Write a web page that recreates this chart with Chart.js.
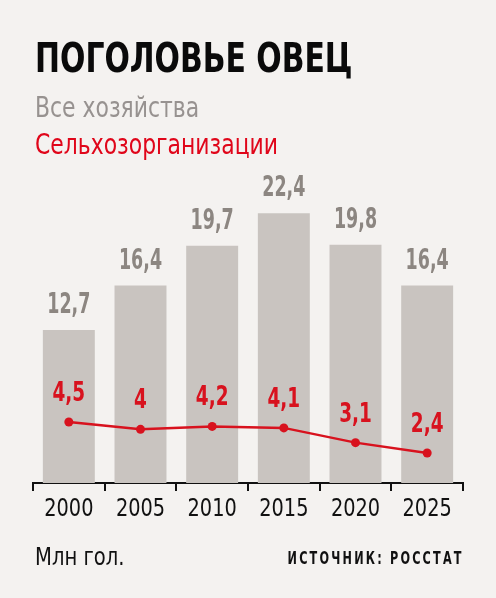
<!DOCTYPE html>
<html>
<head>
<meta charset="utf-8">
<script src="https://cdn.jsdelivr.net/npm/chart.js@4"></script>
<style>
  html, body { margin: 0; padding: 0; background: #f4f2f0; }
  #wrap { position: relative; width: 496px; height: 598px; overflow: hidden; }
  #c { position: absolute; left: 0; top: 0; }
  .txt { position: absolute; line-height: 1; white-space: nowrap; transform-origin: left top; font-family: "DejaVu Sans Condensed", "Liberation Sans Narrow", sans-serif; }
  #title { left: 35px; top: 38px; font-size: 40px; font-weight: bold; color: #0a0a0a; transform: scaleX(0.83); }
  #sub1 { left: 35px; top: 94px; font-size: 28px; color: #979290; transform: scaleX(0.87); }
  #sub2 { left: 35px; top: 131px; font-size: 28px; color: #e0061a; transform: scaleX(0.87); }
  #unit { left: 35px; top: 544px; font-size: 25px; color: #111; transform: scaleX(0.87); }
  #src { right: 32px; top: 550px; font-size: 17px; font-weight: bold; letter-spacing: 3px; color: #111; transform-origin: right top; transform: scaleX(0.735); }
</style>
</head>
<body>
<div id="wrap">
  <canvas id="c" width="496" height="598"></canvas>
  <div class="txt" id="title">ПОГОЛОВЬЕ ОВЕЦ</div>
  <div class="txt" id="sub1">Все хозяйства</div>
  <div class="txt" id="sub2">Сельхозорганизации</div>
  <div class="txt" id="unit">Млн гол.</div>
  <div class="txt" id="src">ИСТОЧНИК: РОССТАТ</div>
</div>
<script>
// data, млн голов
var years = ["2000", "2005", "2010", "2015", "2020", "2025"];
var allFarms = [12.7, 16.4, 19.7, 22.4, 19.8, 16.4];
var agriOrgs = [4.5, 4, 4.2, 4.1, 3.1, 2.4];

var FONT = '"DejaVu Sans Condensed", "Liberation Sans Narrow", sans-serif';
var RED = "#d8121e";

function fmt(v) {
  return String(v).replace(".", ",");
}

// narrow text: font is wider than the original one
function narrowText(ctx, text, x, y, sx) {
  ctx.save();
  ctx.translate(x, y);
  ctx.scale(sx, 1);
  ctx.fillText(text, 0, 0);
  ctx.restore();
}

// value labels above bars and points, plus year labels
var valueLabels = {
  id: "valueLabels",
  afterDatasetsDraw: function (chart) {
    var ctx = chart.ctx;
    ctx.save();
    ctx.textAlign = "center";
    ctx.textBaseline = "alphabetic";
    chart.getDatasetMeta(1).data.forEach(function (bar, i) {
      ctx.fillStyle = "#8c8681";
      ctx.font = "bold 29px " + FONT;
      narrowText(ctx, fmt(allFarms[i]), bar.x, bar.y - 17, 0.67);
    });
    chart.getDatasetMeta(0).data.forEach(function (pt, i) {
      ctx.fillStyle = RED;
      ctx.font = "bold 27px " + FONT;
      narrowText(ctx, fmt(agriOrgs[i]), pt.x, pt.y - 21, 0.76);
    });
    var xs = chart.scales.x;
    ctx.fillStyle = "#111";
    ctx.font = "25px " + FONT;
    years.forEach(function (yr, i) {
      narrowText(ctx, yr, xs.getPixelForTick(i), xs.top + 33, 0.86);
    });
    ctx.restore();
  },
};

var ctx = document.getElementById("c").getContext("2d");
var myChart = new Chart(ctx, {
  type: "bar",
  data: {
    labels: years,
    datasets: [
      {
        type: "line",
        data: agriOrgs,
        yAxisID: "y2",
        borderColor: RED,
        backgroundColor: RED,
        borderWidth: 2.5,
        pointRadius: 4.5,
        pointBackgroundColor: RED,
        pointBorderWidth: 0,
        tension: 0,
        order: 0,
      },
      {
        data: allFarms,
        yAxisID: "y",
        backgroundColor: "#c9c4c0",
        categoryPercentage: 1,
        barPercentage: 0.725,
        order: 1,
      },
    ],
  },
  options: {
    responsive: false,
    animation: false,
    devicePixelRatio: 1,
    layout: { padding: { left: 33, right: 33, top: 170, bottom: 75 } },
    plugins: { legend: { display: false }, tooltip: { enabled: false } },
    scales: {
      x: {
        afterFit: function (s) { s.height = 40; },
        grid: {
          display: true,
          offset: true,
          drawOnChartArea: false,
          drawTicks: true,
          tickLength: 8,
          color: "#111",
          lineWidth: 2,
        },
        border: { display: true, color: "#111", width: 2 },
        ticks: { display: false },
      },
      y: { display: false, min: 0, max: 26 },
      y2: { display: false, min: 0.366, max: 21.57 },
    },
  },
  plugins: [valueLabels],
});
</script>
</body>
</html>
